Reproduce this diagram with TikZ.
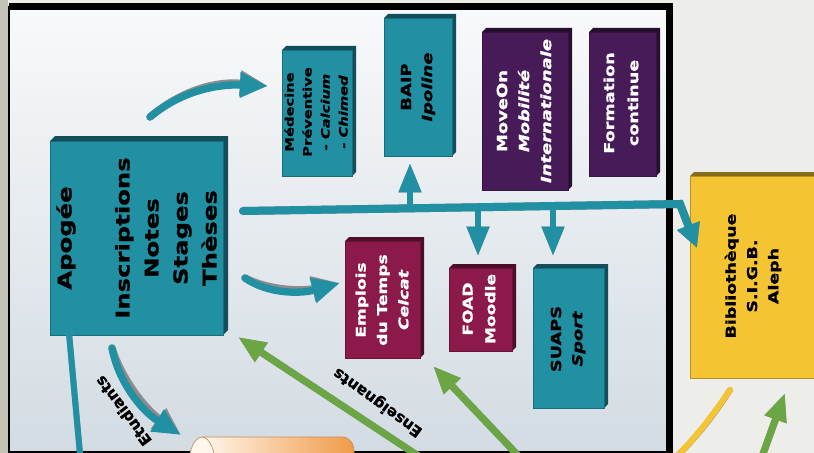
\documentclass[tikz,border=0pt]{standalone}
\usepackage{fontspec}
\newfontfamily\boxfont{DejaVu Sans}[FakeStretch=1.28, FakeBold=1.2]
\newfontfamily\labelfont{DejaVu Sans}[FakeBold=1]
\usepackage{tikz}
\usetikzlibrary{calc}
\usetikzlibrary{arrows.meta}
\usepackage{xcolor}

\definecolor{sarcelle}{HTML}{2290A3}
\definecolor{prune}{HTML}{461B57}
\definecolor{bordeaux}{HTML}{8B1A4B}
\definecolor{jaune}{HTML}{F4C432}
\definecolor{vert}{HTML}{6BA544}
\definecolor{ombre}{HTML}{8C8C8C}
\definecolor{cadrehaut}{HTML}{F8F9FA}
\definecolor{cadrebas}{HTML}{D3DCE3}
\definecolor{fond}{HTML}{EDEDE9}
\definecolor{bande}{HTML}{C4C4B6}
\definecolor{orclair}{HTML}{FFF6EC}
\definecolor{orfonce}{HTML}{F09A48}

% 3D box: [depth] left, top, right, bottom, colour
\newcommand{\boite}[6][4]{%
  \fill[#6!55!black] (#2,#3) -- ++(#1,-#1) -- (#4+#1,#3-#1) -- (#4+#1,#5-#1) -- (#4,#5) -- cycle;
  \filldraw[fill=#6, draw=#6!75!black, line width=0.5pt] (#2,#3) rectangle (#4,#5);
}
% path with its grey shadow
\newcommand{\ombree}[2]{%
  \draw[#1, draw=ombre, shift={(3,-3)}] #2;
  \draw[#1] #2;
}

\begin{document}
\begin{tikzpicture}[x=0.75pt, y=-0.75pt,
    txt/.style={rotate=90, align=center, font=\boxfont\bfseries},
    fleche/.style={draw=sarcelle, line width=5.5pt, line cap=round, -{Triangle[length=21pt,width=18pt]}},
    branche/.style={draw=sarcelle, line width=4.5pt, -{Triangle[length=22pt,width=16pt]}},
    bus/.style={draw=sarcelle, line width=6pt, line cap=round, -{Triangle[length=18pt,width=17pt]}},
    vertfl/.style={draw=vert, line width=5.25pt, -{Triangle[length=21pt,width=16pt]}},
    trait/.style={line width=4.5pt, line cap=round},
    etiq/.style={font=\labelfont\bfseries\fontsize{11.5}{13}\selectfont}]

    \useasboundingbox (0,0) rectangle (814,453);
    \clip (0,0) rectangle (814,453);

    % background and frame
    \fill[fond] (0,0) rectangle (814,453);
    \fill[bande] (0,0) rectangle (8,453);
    \shade[top color=cadrehaut, bottom color=cadrebas] (9,7) rectangle (669,452);
    \draw[line width=1.2pt] (9,7) rectangle (669,452);
    \fill[black] (9,3) rectangle (673,10);
    \fill[black] (666,3) rectangle (673,453);

    % boxes
    \boite[5]{50}{141}{223}{335}{sarcelle}
    \boite{282}{50}{352}{176}{sarcelle}
    \boite{384}{18}{452}{156}{sarcelle}
    \boite{482}{32}{568}{190}{prune}
    \boite{589}{32}{656}{176}{prune}
    \boite{345}{241}{420}{358}{bordeaux}
    \boite{449}{268}{512}{351}{bordeaux}
    \boite{533}{268}{604}{408}{sarcelle}
    \boite{690}{176}{840}{378}{jaune}

    \node[txt, font=\boxfont\bfseries\fontsize{14.25}{21.75}\selectfont] (apogee) at (136.5,238)
        {Apogée\\[21.75pt]Inscriptions\\Notes\\Stages\\Thèses};
    \node[txt, font=\boxfont\bfseries\fontsize{8.6}{13.5}\selectfont] (medecine) at (316,112)
        {Médecine\\Préventive\\\itshape - Calcium\\\itshape - Chimed};
    \node[txt, font=\boxfont\bfseries\fontsize{10.5}{15.75}\selectfont] (baip) at (418,87)
        {BAIP\\\itshape Ipoline};
    \node[txt, text=white, font=\boxfont\bfseries\fontsize{10.5}{16.5}\selectfont] (moveon) at (524,111)
        {MoveOn\\\itshape Mobilité\\\itshape Internationale};
    \node[txt, text=white, font=\boxfont\bfseries\fontsize{10.3}{18}\selectfont] (formation) at (621,103)
        {Formation\\continue};
    \node[txt, text=white, font=\boxfont\bfseries\fontsize{10}{16}\selectfont] (emplois) at (382,300)
        {Emplois\\du Temps\\\itshape Celcat};
    \node[txt, text=white, font=\boxfont\bfseries\fontsize{10}{17}\selectfont] (foad) at (479,309)
        {FOAD\\Moodle};
    \node[txt, font=\boxfont\bfseries\fontsize{10.4}{16}\selectfont] (suaps) at (568,339)
        {SUAPS\\\itshape Sport};
    \node[txt, font=\boxfont\bfseries\fontsize{10.2}{16}\selectfont] (biblio) at (753,276)
        {Bibliothèque\\S.I.G.B.\\Aleph};

    % arrow ends
    \coordinate (med-d) at (150,117);
    \coordinate (med-f) at (268,86);
    \coordinate (bus-w) at (243,211);
    \coordinate (bus-e) at (680,204);
    \coordinate (bib-f) at (697,248);
    \coordinate (baip-d) at (410,208);
    \coordinate (baip-f) at (410,163);
    \coordinate (foad-d) at (478,208);
    \coordinate (foad-f) at (478,256);
    \coordinate (suaps-d) at (553,207);
    \coordinate (suaps-f) at (553,256);
    \coordinate (edt-d) at (245,278);
    \coordinate (edt-f) at (340,283);
    \coordinate (apo-b) at (69,333);
    \coordinate (apo-bas) at (81,465);
    \coordinate (etu-d) at (112,348);
    \coordinate (etu-f) at (181,435);
    \coordinate (ens-d) at (432,465);
    \coordinate (ens-f) at (238,337);
    \coordinate (ens2-d) at (527,465);
    \coordinate (ens2-f) at (433,366);
    \coordinate (bib-vd) at (759,465);
    \coordinate (bib-vf) at (785,393);
    \coordinate (jaune-d) at (668,465);
    \coordinate (jaune-f) at (730,390);

    % teal arrows
    \ombree{fleche}{(med-d) .. controls (180,92) and (215,84) .. (med-f)}
    \ombree{bus}{(bus-w) -- (bus-e) -- (bib-f)}
    \ombree{branche}{(baip-d) -- (baip-f)}
    \ombree{branche}{(foad-d) -- (foad-f)}
    \ombree{branche}{(suaps-d) -- (suaps-f)}
    \ombree{fleche}{(edt-d) .. controls (268,294) and (300,294) .. (edt-f)}
    \ombree{trait, draw=sarcelle}{(apo-b) -- (apo-bas)}
    \ombree{fleche}{(etu-d) .. controls (118,380) and (140,410) .. (etu-f)}

    % green and yellow arrows
    \ombree{vertfl}{(ens-d) -- (ens-f)}
    \ombree{vertfl}{(ens2-d) -- (ens2-f)}
    \ombree{vertfl}{(bib-vd) -- (bib-vf)}
    \ombree{trait, draw=jaune}{(jaune-d) .. controls (695,440) and (715,412) .. (jaune-f)}

    % labels
    \node[etiq, rotate=127] (etudiants) at (123,411) {Etudiants};
    \node[etiq, rotate=144] (enseignants) at (378,402) {Enseignants};

    % cylinder at the bottom
    \shade[left color=orclair, right color=orfonce] (202,437) -- (342,437)
        .. controls (350,437) and (354,444) .. (354,452) -- (354,475) -- (202,475) -- cycle;
    \draw[orfonce!60!gray, line width=0.5pt] (202,437) -- (342,437) .. controls (350,437) and (354,444) .. (354,452) -- (354,475);
    \filldraw[fill=orclair, draw=orfonce!60!gray, line width=0.5pt] (202,470) ellipse [x radius=14, y radius=33];
\end{tikzpicture}
\end{document}
